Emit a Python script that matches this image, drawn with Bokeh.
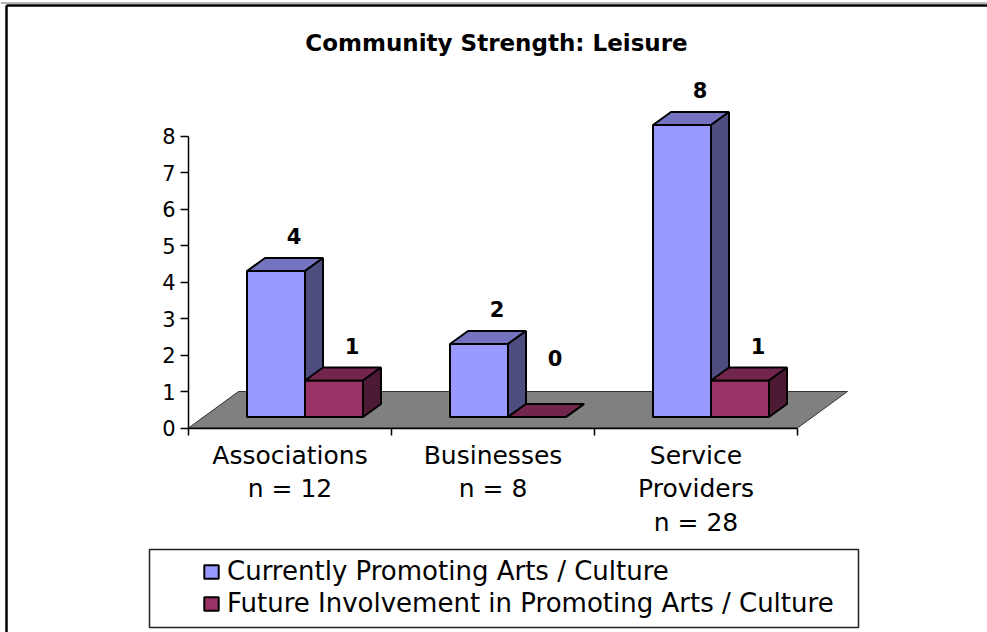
from bokeh.plotting import figure
from bokeh.models import Range1d, LinearAxis, FixedTicker, Legend, LegendItem, ColumnDataSource, Label
from bokeh.core.properties import value
from bokeh.embed import file_html
from bokeh.resources import INLINE

# ---------------- data ----------------
categories = ["Associations\nn = 12", "Businesses\nn = 8", "Service\nProviders\nn = 28"]
current = [4, 2, 8]
future = [1, 0, 1]
y_ticks = [0, 1, 2, 3, 4, 5, 6, 7, 8]
series_names = ["Currently Promoting Arts / Culture",
                "Future Involvement in Promoting Arts / Culture"]
title_text = "Community Strength:  Leisure"

# ---------------- geometry / style ----------------
W, H = 987, 632
PX_X = 203.0      # px per category
PX_Y = 36.5       # px per value unit
ORIGIN_X = 188.0  # canvas px of x = 0
ORIGIN_Y = 427.5  # canvas px (from top) of y = 0

def dx(px):
    return px / PX_X

def dy(px):
    return px / PX_Y

def cx_(px):
    return (px - ORIGIN_X) / PX_X

def cy_(px):
    return (ORIGIN_Y - px) / PX_Y

FONT = "DejaVu Sans"
BLUE = ("#9999FF", "#7373BF", "#4D4D80")
RED = ("#993366", "#73264D", "#4D1A33")

x_range = Range1d(cx_(0), cx_(W))
y_range = Range1d(cy_(H), cy_(0))

p = figure(width=W, height=H, x_range=x_range, y_range=y_range,
           x_axis_type=None, y_axis_type=None, toolbar_location=None,
           output_backend="svg", min_border=0, title=None)
p.outline_line_color = None
p.background_fill_color = "white"
p.border_fill_color = "white"

n = len(categories)

# chart border (left and top; right and bottom lie outside the picture)
p.line([cx_(0), cx_(W)], [cy_(2.5), cy_(2.5)], line_color="#A0A0A0", line_width=1.5)
p.line([cx_(6), cx_(6)], [cy_(5), cy_(H)], line_color="black", line_width=2.5)
p.line([cx_(6), cx_(W)], [cy_(5), cy_(5)], line_color="black", line_width=2.5)

# floor
FD_X, FD_Y = dx(50), dy(36.5)
p.patch([0, n, n + FD_X, FD_X], [0, 0, FD_Y, FD_Y],
        fill_color="#808080", line_color="#333333", line_width=1)

# bars
centers = [i + 0.5 + dx(15) for i in range(n)]
bw = dx(58)
base = dy(11)
ddx, ddy = dx(18), dy(13)

def draw_bars(lefts, vals, colors):
    rights = [l + bw for l in lefts]
    tops = [base + v for v in vals]
    src = ColumnDataSource(dict(left=lefts, right=rights, top=tops, bottom=[base] * len(vals)))
    front = p.quad(left="left", right="right", top="top", bottom="bottom", source=src,
                   fill_color=colors[0], line_color="black", line_width=2)
    p.patches([[l, r, r + ddx, l + ddx] for l, r in zip(lefts, rights)],
              [[t, t, t + ddy, t + ddy] for t in tops],
              fill_color=colors[1], line_color="black", line_width=2)
    p.patches([[r, r + ddx, r + ddx, r] for r in rights],
              [[base, base + ddy, t + ddy, t] for t in tops],
              fill_color=colors[2], line_color="black", line_width=2)
    return front

blue_front = draw_bars([c - bw for c in centers], current, BLUE)
red_front = draw_bars(list(centers), future, RED)

# data labels
LABEL_MIN = 0.65
lab_x = [c - bw / 2 + ddx for c in centers] + [c + bw / 2 + ddx for c in centers]
vals = current + future
lab_y = [base + max(v, LABEL_MIN) + ddy + dy(22) for v in vals]
p.text(x=lab_x, y=lab_y, text=[str(v) for v in vals], text_align="center",
       text_baseline="alphabetic", text_font=value(FONT), text_font_style="bold",
       text_font_size="21px", text_color="black")

# axes
yaxis = LinearAxis(fixed_location=0, bounds=(0, 8), ticker=FixedTicker(ticks=y_ticks))
yaxis.axis_line_color = "black"
yaxis.axis_line_width = 1.5
yaxis.major_tick_out = 8
yaxis.major_tick_in = 0
yaxis.minor_tick_out = 0
yaxis.minor_tick_in = 0
yaxis.major_tick_line_width = 1.5
yaxis.major_label_standoff = 5
yaxis.major_label_text_font = FONT
yaxis.major_label_text_font_size = "21px"
yaxis.major_label_text_color = "black"
p.add_layout(yaxis, "left")

xaxis = LinearAxis(fixed_location=0, bounds=(0, n), ticker=FixedTicker(ticks=list(range(n + 1))))
xaxis.axis_line_color = "black"
xaxis.axis_line_width = 1.5
xaxis.major_tick_out = 7
xaxis.major_tick_in = 0
xaxis.minor_tick_out = 0
xaxis.minor_tick_in = 0
xaxis.major_tick_line_width = 1.5
xaxis.major_label_text_color = None
p.add_layout(xaxis, "below")

# category labels
p.text(x=[i + 0.5 for i in range(n)], y=[-dy(12.5)] * n, text=categories,
       text_align="center", text_baseline="top", text_font=value(FONT),
       text_font_size="25px", text_line_height=1.16, text_color="black")

# title
p.add_layout(Label(x=cx_(500), y=cy_(42), text=title_text, text_align="center",
                   text_baseline="alphabetic", text_font=FONT, text_font_style="bold",
                   text_font_size="23px", text_color="black"))

# legend frame
p.quad(left=[cx_(149)], right=[cx_(858)], top=[cy_(549)], bottom=[cy_(627)],
       fill_color="white", line_color="#222222", line_width=1.5)

legend = Legend(items=[LegendItem(label=series_names[0], renderers=[blue_front]),
                       LegendItem(label=series_names[1], renderers=[red_front])],
                location=(202, 14), padding=0, margin=0, spacing=2,
                glyph_width=18, glyph_height=17, label_standoff=7,
                label_text_font=FONT, label_text_font_size="26px",
                label_text_color="black", border_line_color=None,
                background_fill_alpha=0)
p.add_layout(legend)

open("out.html", "w").write(file_html(p, INLINE))
